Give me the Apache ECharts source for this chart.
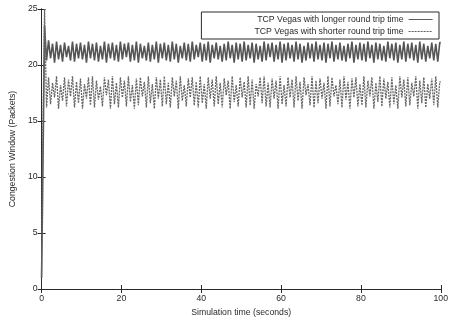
<!DOCTYPE html>
<html>
<head>
<meta charset="utf-8">
<script src="https://cdn.jsdelivr.net/npm/echarts@6/dist/echarts.min.js"></script>
<style>
  html, body { margin: 0; padding: 0; background: #fff; }
  #chart { width: 451px; height: 322px; }
</style>
</head>
<body>
<div id="chart"></div>
<script>
// samples taken every 0.5 s, 0 .. 100 s
const sampleStep = 0.5;

const longerRtt = [
  1, 8, 23.5, 20.4, 22.2, 20.6, 21.9, 20.2, 22.1, 20.5, 21.8, 20.3, 22, 20.7, 21.7, 20.4, 22.1, 20.3, 21.9, 20.6,
  22, 20.5, 21.8, 20.2, 22.1, 20.6, 21.9, 20.4, 22, 20.3, 21.7, 20.5, 22.1, 20.2, 21.9, 20.6, 22, 20.4, 21.8, 20.3,
  22.1, 20.5, 21.9, 20.7, 22, 20.3, 21.8, 20.4, 22.1, 20.2, 21.9, 20.6, 21.7, 20.4, 22, 20.3, 21.8, 20.5, 22.1, 20.2,
  21.9, 20.6, 22, 20.4, 21.8, 20.3, 22.1, 20.5, 21.9, 20.2, 21.7, 20.6, 22, 20.4, 21.9, 20.3, 22.1, 20.5, 21.8, 20.7,
  22, 20.3, 21.9, 20.4, 22.1, 20.2, 21.8, 20.6, 22, 20.5, 21.7, 20.3, 21.9, 20.4, 22.1, 20.6, 21.8, 20.2, 22, 20.5,
  21.9, 20.3, 22.1, 20.4, 21.8, 20.6, 22, 20.2, 21.9, 20.5, 21.7, 20.3, 22.1, 20.4, 21.9, 20.7, 22, 20.3, 21.8, 20.5,
  22.1, 20.2, 21.9, 20.4, 22, 20.6, 21.8, 20.3, 22.1, 20.5, 21.9, 20.2, 21.7, 20.4, 22, 20.6, 21.9, 20.3, 22.1, 20.5,
  21.8, 20.4, 22, 20.2, 21.9, 20.6, 22.1, 20.3, 21.8, 20.5, 22, 20.4, 21.7, 20.3, 21.9, 20.6, 22.1, 20.2, 21.8, 20.5,
  22, 20.4, 21.9, 20.3, 22.1, 20.6, 21.8, 20.2, 22, 20.5, 21.9, 20.4, 21.7, 20.3, 22.1, 20.6, 21.9, 20.4, 22, 20.2,
  21.8, 20.5, 22.1, 20.3, 21.9, 20.6, 22, 20.4, 21.8, 20.2, 22.1, 20.5, 21.9, 20.3, 21.7, 20.6, 22, 20.4, 21.9, 20.3,
  22
];

const shorterRtt = [
  1, 12, 25, 16.2, 18.9, 16.5, 18.4, 17.1, 19, 16.1, 18.2, 16.8, 18.9, 16.3, 18.7, 17.2, 19, 16.2, 18.5, 16.6,
  18.8, 16.1, 18.3, 17, 18.9, 16.4, 19, 16.2, 18.6, 16.9, 18.1, 16.3, 18.9, 17.3, 18.7, 16.1, 19, 16.5, 18.4, 16.2,
  18.9, 17.1, 18.6, 16.3, 19, 16.7, 18.2, 16.1, 18.8, 16.4, 18.9, 17.2, 18.5, 16.2, 19, 16.6, 18.3, 16.1, 18.9, 17,
  18.7, 16.3, 19, 16.5, 18.4, 16.2, 18.9, 17.2, 18.6, 16.1, 19, 16.8, 18.2, 16.3, 18.8, 17.1, 18.9, 16.4, 18.5, 16.2,
  19, 16.6, 18.3, 16.1, 18.9, 17, 18.7, 16.3, 19, 16.5, 18.4, 16.2, 18.8, 17.3, 18.6, 16.1, 19, 16.7, 18.2, 16.3,
  18.9, 17.1, 18.5, 16.2, 19, 16.4, 18.7, 16.1, 18.3, 17.2, 18.9, 16.6, 19, 16.3, 18.4, 16.2, 18.8, 17, 18.6, 16.1,
  19, 16.5, 18.2, 16.3, 18.9, 17.1, 18.7, 16.2, 19, 16.8, 18.5, 16.1, 18.9, 17.3, 18.3, 16.4, 19, 16.2, 18.6, 16.6,
  18.8, 17, 18.4, 16.1, 19, 16.3, 18.9, 17.2, 18.2, 16.5, 18.7, 16.2, 19, 16.9, 18.5, 16.1, 18.8, 17.1, 18.9, 16.3,
  18.3, 16.4, 19, 16.2, 18.6, 17.2, 18.9, 16.1, 18.4, 16.7, 19, 16.3, 18.8, 17, 18.5, 16.2, 18.9, 16.5, 18.2, 16.1,
  19, 17.1, 18.7, 16.3, 18.9, 16.4, 18.4, 17.2, 19, 16.1, 18.6, 16.6, 18.9, 16.2, 18.3, 17, 18.8, 16.4, 19, 16.2,
  18.5
];

const seriesNames = [
  "TCP Vegas with longer round trip time",
  "TCP Vegas with shorter round trip time"
];

const toPairs = (vals) => vals.map((v, i) => [i * sampleStep, v]);

const chart = echarts.init(document.getElementById("chart"));
const font = "'Liberation Sans', Arial, sans-serif";
const ink = "#2a2a2a";
const fs = 8.7;

const frameAxis = {
  axisLine: { show: true, lineStyle: { color: ink, width: 1 } },
  axisTick: { show: true, inside: true, length: 4, lineStyle: { color: ink } },
  splitLine: { show: false }
};

chart.setOption({
  animation: false,
  textStyle: { fontFamily: font },
  grid: { left: 41, right: 8, top: 9, bottom: 33 },
  legend: {
    data: seriesNames,
    orient: "vertical",
    align: "right",
    right: 12,
    top: 12,
    itemWidth: 24,
    itemHeight: 8,
    itemGap: 3,
    padding: [3, 6, 3, 53],
    backgroundColor: "#fff",
    borderColor: ink,
    borderWidth: 1,
    itemStyle: { opacity: 0 },
    lineStyle: { width: 0.8, color: "#333" },
    textStyle: { fontSize: fs, color: ink, fontFamily: font }
  },
  xAxis: [
    Object.assign({
      type: "value",
      min: 0,
      max: 100,
      interval: 20,
      name: "Simulation time (seconds)",
      nameLocation: "middle",
      nameGap: 19,
      nameTextStyle: { fontSize: fs, color: ink, fontFamily: font },
      axisLabel: { fontSize: fs, color: ink, margin: 5 }
    }, frameAxis),
    Object.assign({
      type: "value",
      position: "top",
      min: 0,
      max: 100,
      interval: 20,
      axisLabel: { show: false }
    }, frameAxis)
  ],
  yAxis: [
    Object.assign({
      type: "value",
      min: 0,
      max: 25,
      interval: 5,
      name: "Congestion Window (Packets)",
      nameLocation: "middle",
      nameGap: 22,
      nameTextStyle: { fontSize: fs, color: ink, fontFamily: font },
      axisLabel: { fontSize: fs, color: ink, margin: 4 }
    }, frameAxis),
    Object.assign({
      type: "value",
      position: "right",
      min: 0,
      max: 25,
      interval: 5,
      axisLabel: { show: false }
    }, frameAxis)
  ],
  series: [
    {
      name: seriesNames[0],
      type: "line",
      step: "middle",
      symbol: "none",
      data: toPairs(longerRtt),
      lineStyle: { color: "#555", width: 1.6, type: "solid" },
      itemStyle: { color: "#555" }
    },
    {
      name: seriesNames[1],
      type: "line",
      step: "middle",
      symbol: "none",
      data: toPairs(shorterRtt),
      lineStyle: { color: "#666", width: 1.3, type: [2, 1] },
      itemStyle: { color: "#666" }
    }
  ]
});
</script>
</body>
</html>
